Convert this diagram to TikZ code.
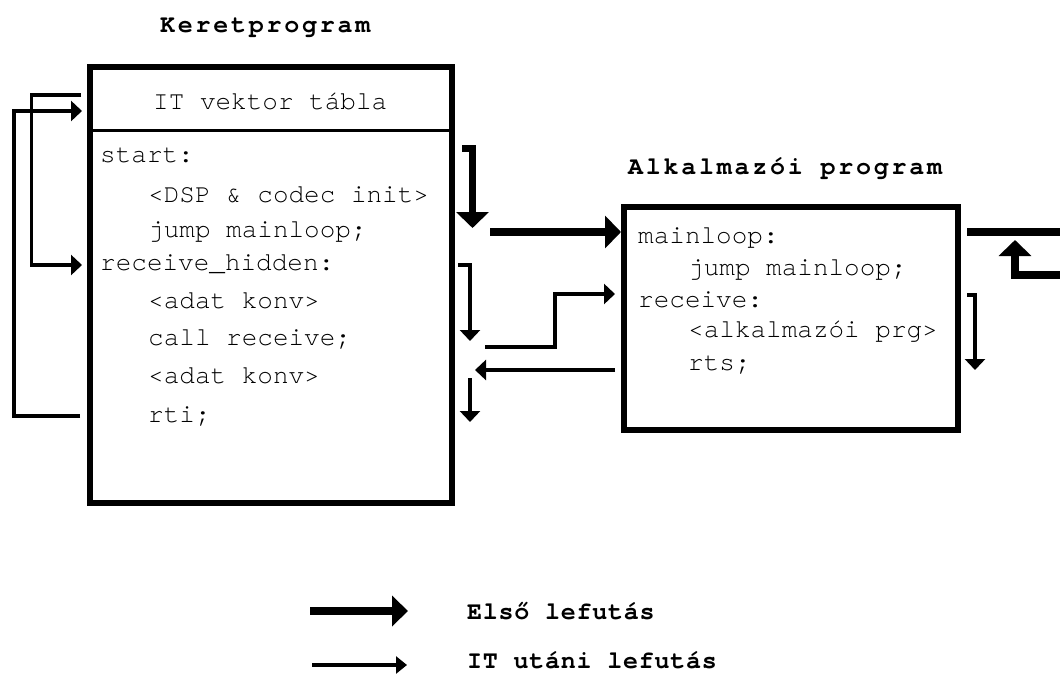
\documentclass[tikz,border=0pt]{standalone}
\usepackage{fontspec}
\usetikzlibrary{arrows.meta}
\newfontfamily\codefont{TeX Gyre Cursor}
\newfontfamily\titlefont[LetterSpace=11]{TeX Gyre Cursor Bold}
\newfontfamily\legendfont[LetterSpace=3]{TeX Gyre Cursor Bold}
\tikzset{
  frame/.style={draw, line width=5.5pt, inner sep=0pt},
  code/.style={anchor=base west, inner sep=0pt, font=\codefont\fontsize{26}{30}\selectfont},
  title/.style={anchor=base west, inner sep=0pt, font=\titlefont\fontsize{25}{30}\selectfont},
  legend/.style={anchor=base west, inner sep=0pt, font=\legendfont\fontsize{25}{30}\selectfont},
  heavy/.style={line width=7.5pt, line join=miter, -{Triangle[length=16pt,width=32pt]}},
  light/.style={line width=3.5pt, line join=miter, -{Triangle[length=11pt,width=20pt]}},
}
\begin{document}
\begin{tikzpicture}[x=1pt,y=-1pt]
\useasboundingbox (0,0) rectangle (1060,674);
\fill[white] (0,0) rectangle (1060,674);

% frame program
\node[title] (ktitle) at (160,33) {Keretprogram};
\node[frame, minimum width=362pt, minimum height=436pt] (keret) at (271,285) {};
\coordinate (divider) at (0,131);
\draw[line width=3pt] (keret.west |- divider) -- (keret.east |- divider);
\node[code] (ivt) at (153,110) {IT vektor tábla};
\node[code] (k1) at (100,163) {start:};
\node[code] (k2) at (148,202) {<DSP \& codec init>};
\node[code] (k3) at (148,237) {jump mainloop;};
\node[code] (k4) at (100,270) {receive\_hidden:};
\node[code] (k5) at (148,308) {<adat konv>};
\node[code] (k6) at (148,345) {call receive;};
\node[code] (k7) at (148,383) {<adat konv>};
\node[code] (k8) at (148,422) {rti;};

% application program
\node[title] (atitle) at (628,175) {Alkalmazói program};
\node[frame, line width=6pt, minimum width=334pt, minimum height=223pt] (alk) at (791,318.5) {};
\node[code] (a1) at (638,243) {mainloop:};
\node[code] (a2) at (688,275) {jump mainloop;};
\node[code] (a3) at (638,307) {receive:};
\node[code] (a4) at (688,337) {<alkalmazói prg>};
\node[code] (a5) at (688,370) {rts;};

% connector end points
\coordinate (h1s) at (462,148.5);
\coordinate (h1e) at (472.5,228);
\coordinate (h2s) at (490,232);
\coordinate (h2e) at (alk.west |- h2s);
\coordinate (h3s) at (967,232);
\coordinate (h3e) at (1060,232);
\coordinate (h4s) at (1060,275);
\coordinate (h4e) at (1015,240);
\coordinate (l1s) at (458,265);
\coordinate (l1e) at (470,341);
\coordinate (l2s) at (485,347);
\coordinate (l2m) at (555,347);
\coordinate (l2e) at (615,294);
\coordinate (l3s) at (615,370);
\coordinate (l3e) at (475,370);
\coordinate (l4s) at (470,378);
\coordinate (l4e) at (470,422);
\coordinate (l5s) at (967,295);
\coordinate (l5e) at (975,370);
\coordinate (o1s) at (80,416);
\coordinate (o1a) at (14,416);
\coordinate (o1b) at (14,111);
\coordinate (o1e) at (82,111);
\coordinate (i1s) at (81,95);
\coordinate (i1a) at (31.5,95);
\coordinate (i1b) at (31.5,265);
\coordinate (i1e) at (82,265);

% first run
\draw[heavy] (h1s) -| (h1e);
\draw[heavy] (h2s) -- (h2e);
\draw[line width=7.5pt] (h3s) -- (h3e);
\draw[heavy] (h4s) -| (h4e);

% run after interrupt
\draw[light] (l1s) -| (l1e);
\draw[light] (l2s) -- (l2m) |- (l2e);
\draw[light] (l3s) -- (l3e);
\draw[light] (l4s) -- (l4e);
\draw[light] (l5s) -| (l5e);
\draw[light] (o1s) -- (o1a) -- (o1b) -- (o1e);
\draw[light] (i1s) -- (i1a) -- (i1b) -- (i1e);

% legend
\coordinate (g1s) at (310,611);
\coordinate (g1e) at (408,611);
\coordinate (g2s) at (312,665);
\coordinate (g2e) at (407,665);
\draw[line width=7.5pt, -{Triangle[length=16pt,width=30pt]}] (g1s) -- (g1e);
\draw[light, -{Triangle[length=11pt,width=17pt]}] (g2s) -- (g2e);
\node[legend] (lg1) at (467,619) {Első lefutás};
\node[legend] (lg2) at (467,668) {IT utáni lefutás};
\end{tikzpicture}
\end{document}
